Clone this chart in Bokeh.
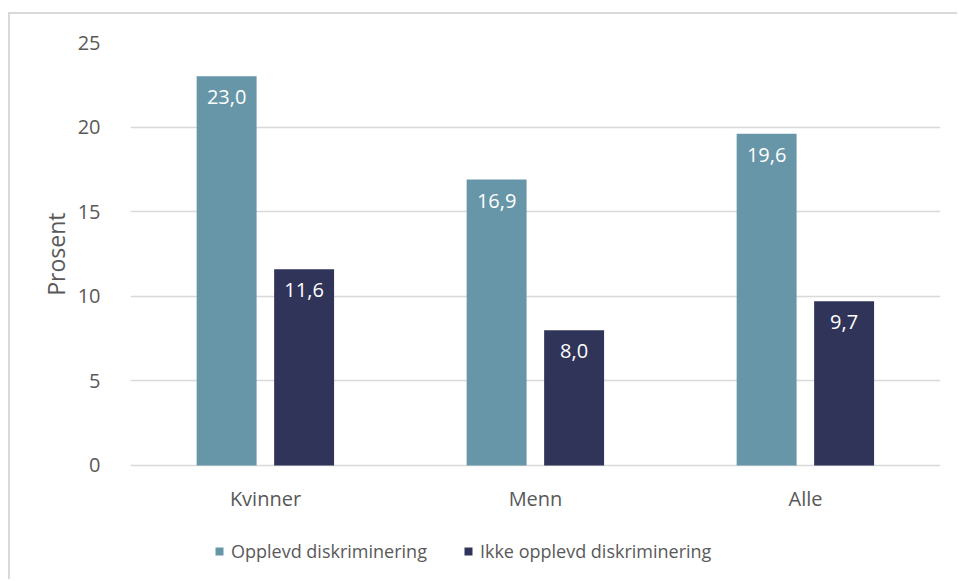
from bokeh.plotting import figure
from bokeh.models import ColumnDataSource, Legend, LegendItem, FactorRange, Title
from bokeh.transform import dodge
from bokeh.core.properties import value
from bokeh.embed import file_html
from bokeh.resources import INLINE

categories = ["Kvinner", "Menn", "Alle"]
opplevd = [23.0, 16.9, 19.6]
ikke_opplevd = [11.6, 8.0, 9.7]
series_names = ["Opplevd diskriminering", "Ikke opplevd diskriminering"]
y_ticks = [0, 5, 10, 15, 20, 25]

TEAL = "#6696A7"
NAVY = "#313459"
GRID = "#d9d9d9"
TXT = "#595959"
FONT = "Open Sans"

src = ColumnDataSource(dict(
    cat=categories,
    a=opplevd,
    b=ikke_opplevd,
    a_lbl=[f"{v:.1f}".replace(".", ",") for v in opplevd],
    b_lbl=[f"{v:.1f}".replace(".", ",") for v in ikke_opplevd],
))

# frame runs down to the canvas bottom so the legend below the axis is not clipped
p = figure(x_range=FactorRange(*categories), y_range=(-6.856, 25),
           width=949, height=567, output_backend="svg", toolbar_location=None,
           min_border_left=120, min_border_right=19, min_border_top=28, min_border_bottom=0)
p.styles = {"border-left": "2px solid #d9d9d9", "border-top": "2px solid #d9d9d9",
            "margin-top": "12px", "margin-left": "8px"}
p.x_range.range_padding = 0
p.outline_line_color = None

r1 = p.vbar(x=dodge("cat", -0.144, range=p.x_range), top="a", width=0.222, source=src,
            fill_color=TEAL, line_color=None)
r2 = p.vbar(x=dodge("cat", 0.143, range=p.x_range), top="b", width=0.222, source=src,
            fill_color=NAVY, line_color=None)

p.text(x=dodge("cat", -0.144, range=p.x_range), y="a", text="a_lbl", source=src,
       text_color="white", text_font=value(FONT), text_font_size="20px",
       text_align="center", text_baseline="top", y_offset=14)
p.text(x=dodge("cat", 0.143, range=p.x_range), y="b", text="b_lbl", source=src,
       text_color="white", text_font=value(FONT), text_font_size="20px",
       text_align="center", text_baseline="top", y_offset=14)

p.yaxis.ticker = y_ticks
p.yaxis.axis_line_color = None
p.yaxis.major_tick_line_color = None
p.yaxis.minor_tick_line_color = None
p.yaxis.major_label_standoff = 24
p.yaxis.major_label_text_font = FONT
p.yaxis.major_label_text_font_size = "20px"
p.yaxis.major_label_text_color = TXT

ytitle = Title(text="Prosent", align="right", offset=170, standoff=5,
               text_font=FONT, text_font_size="23px", text_font_style="normal",
               text_color=TXT)
p.add_layout(ytitle, "left")

p.xaxis.fixed_location = 0
p.xaxis.axis_line_color = None
p.xaxis.major_tick_line_color = None
p.xaxis.minor_tick_line_color = None
p.xaxis.major_label_standoff = 14
p.xaxis.major_label_text_font = FONT
p.xaxis.major_label_text_font_size = "20px"
p.xaxis.major_label_text_color = TXT

p.xgrid.grid_line_color = None
p.ygrid.grid_line_color = GRID
p.ygrid.grid_line_width = 1.5

legend = Legend(items=[LegendItem(label=series_names[0], renderers=[r1]),
                       LegendItem(label=series_names[1], renderers=[r2])],
                orientation="horizontal", location=(84, 18),
                glyph_width=10, glyph_height=10, label_standoff=7, spacing=36,
                padding=0, margin=0, border_line_color=None, background_fill_alpha=0,
                label_text_font=FONT, label_text_font_size="18px", label_text_color=TXT)
p.add_layout(legend, "center")

open("out.html", "w").write(file_html(p, INLINE))
